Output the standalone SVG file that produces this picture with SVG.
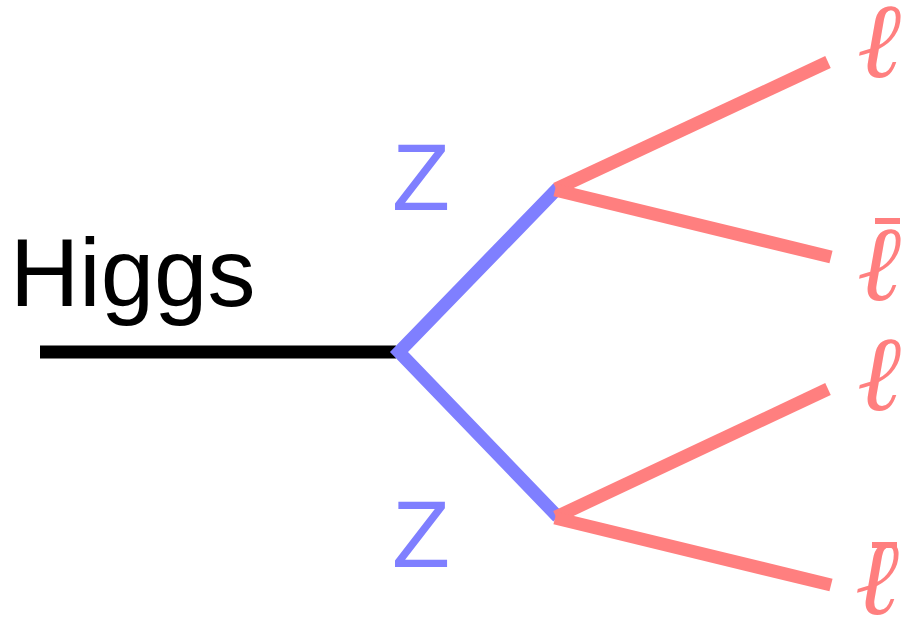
<svg xmlns="http://www.w3.org/2000/svg" width="908" height="625" viewBox="0 0 908 625">
<style>
.blk{stroke:#000;stroke-width:13;fill:none}
.blu{stroke:#7f7fff;stroke-width:13;fill:none;stroke-linejoin:miter}
.red{stroke:#ff7f7f;stroke-width:13;fill:none;stroke-linecap:butt}
.lab{font-family:"Liberation Sans",Arial,sans-serif}
.ell{font-family:"DejaVu Serif",serif;font-style:italic;fill:#ff7f7f;font-size:106px;text-anchor:middle}
.bar{stroke:#ff7f7f;stroke-width:6}
</style>
<rect width="908" height="625" fill="#fff"/>
<g id="connectors">
<line class="blk" x1="40" y1="352" x2="396" y2="352"/>
<polyline class="blu" points="558,188 399,352 558,517"/>
<line class="red" x1="556" y1="189" x2="828" y2="62"/>
<line class="red" x1="555" y1="190" x2="831" y2="257"/>
<line class="red" x1="556" y1="517" x2="828" y2="389"/>
<line class="red" x1="555" y1="518" x2="831" y2="585"/>
</g>
<g id="higgs"><text class="lab" x="10" y="306" font-size="96" fill="#000">Higgs</text></g>
<g id="z1"><text class="lab" x="392" y="210" font-size="95" fill="#7f7fff">Z</text></g>
<g id="z2"><text class="lab" x="392" y="567" font-size="95" fill="#7f7fff">Z</text></g>
<g id="l1"><text class="ell" x="879" y="77">ℓ</text></g>
<g id="l2"><line class="bar" x1="875" y1="221" x2="900" y2="221"/><text class="ell" x="879" y="300">ℓ</text></g>
<g id="l3"><text class="ell" x="879" y="410">ℓ</text></g>
<g id="l4"><line class="bar" x1="872" y1="545" x2="897" y2="545"/><text class="ell" x="877" y="614">ℓ</text></g>
</svg>
